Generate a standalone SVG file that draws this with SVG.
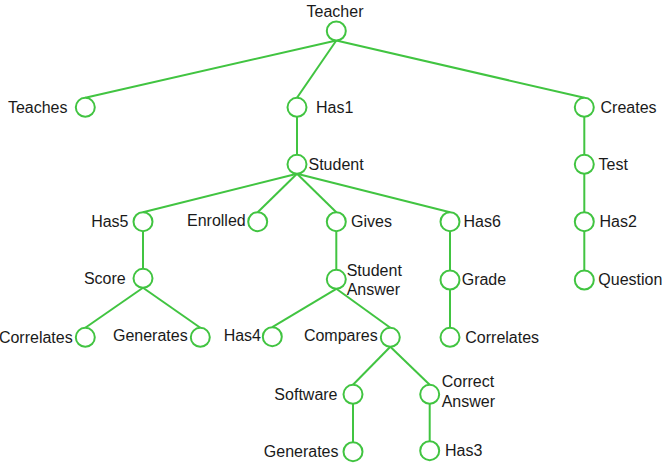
<svg xmlns="http://www.w3.org/2000/svg" width="663" height="464" viewBox="0 0 663 464">
<style>
.n circle{fill:#fff;stroke:#41c441;stroke-width:2}
.e line{stroke:#41c441;stroke-width:2}
text{font-family:"Liberation Sans",Arial,sans-serif;font-size:16px;fill:#1a1a1a}
.r{text-anchor:end}
.m{text-anchor:middle}
</style>
<rect width="663" height="464" fill="#fff"/>
<g id="connectors" class="e">
<line x1="336.3" y1="40.5" x2="85.3" y2="97.8"/>
<line x1="336.3" y1="40.5" x2="297" y2="97.8"/>
<line x1="336.3" y1="40.5" x2="584.3" y2="97.8"/>
<line x1="297" y1="116.8" x2="297" y2="154.8"/>
<line x1="584.3" y1="116.8" x2="584.3" y2="154.8"/>
<line x1="584.3" y1="173.8" x2="584.3" y2="212.2"/>
<line x1="584.3" y1="231.2" x2="584.3" y2="270.5"/>
<line x1="297" y1="173.8" x2="143" y2="212.2"/>
<line x1="297" y1="173.8" x2="257.7" y2="212.2"/>
<line x1="297" y1="173.8" x2="336.3" y2="212.2"/>
<line x1="297" y1="173.8" x2="450" y2="212.2"/>
<line x1="143" y1="231.2" x2="143" y2="268.8"/>
<line x1="143" y1="287.8" x2="85.3" y2="327.8"/>
<line x1="143" y1="287.8" x2="200.3" y2="327.8"/>
<line x1="336.3" y1="231.2" x2="336.3" y2="269.8"/>
<line x1="336.3" y1="288.8" x2="272.3" y2="327.2"/>
<line x1="336.3" y1="288.8" x2="390.3" y2="327.8"/>
<line x1="390.3" y1="346.8" x2="353" y2="384.8"/>
<line x1="390.3" y1="346.8" x2="429.7" y2="384.8"/>
<line x1="353" y1="403.8" x2="353" y2="442.2"/>
<line x1="429.7" y1="403.8" x2="429.7" y2="441.2"/>
<line x1="450" y1="231.2" x2="450" y2="270.5"/>
<line x1="450" y1="289.5" x2="450" y2="327.8"/>
</g>
<g id="teacher" class="n"><circle cx="336.3" cy="31" r="9.5"/><text class="m" x="335" y="17">Teacher</text></g>
<g id="teaches" class="n"><circle cx="85.3" cy="107.3" r="9.5"/><text class="r" x="67.5" y="112.7">Teaches</text></g>
<g id="has1" class="n"><circle cx="297" cy="107.3" r="9.5"/><text x="316" y="112.7">Has1</text></g>
<g id="creates" class="n"><circle cx="584.3" cy="107.3" r="9.5"/><text x="600.5" y="112.7">Creates</text></g>
<g id="student" class="n"><circle cx="297" cy="164.3" r="9.5"/><text x="308.5" y="169.7">Student</text></g>
<g id="test" class="n"><circle cx="584.3" cy="164.3" r="9.5"/><text x="598.5" y="169.7">Test</text></g>
<g id="has5" class="n"><circle cx="143" cy="221.7" r="9.5"/><text class="r" x="128.5" y="227.3">Has5</text></g>
<g id="enrolled" class="n"><circle cx="257.7" cy="221.7" r="9.5"/><text class="r" x="245.7" y="226.2">Enrolled</text></g>
<g id="gives" class="n"><circle cx="336.3" cy="221.7" r="9.5"/><text x="351" y="227">Gives</text></g>
<g id="has6" class="n"><circle cx="450" cy="221.7" r="9.5"/><text x="463.5" y="227">Has6</text></g>
<g id="has2" class="n"><circle cx="584.3" cy="221.7" r="9.5"/><text x="599.5" y="227">Has2</text></g>
<g id="score" class="n"><circle cx="143" cy="278.3" r="9.5"/><text class="r" x="125.7" y="283.5">Score</text></g>
<g id="student-answer" class="n"><circle cx="336.3" cy="279.3" r="9.5"/><text x="346.7" y="275.7">Student</text><text x="346.7" y="295">Answer</text></g>
<g id="grade" class="n"><circle cx="450" cy="280" r="9.5"/><text x="461.7" y="285.2">Grade</text></g>
<g id="question" class="n"><circle cx="584.3" cy="280" r="9.5"/><text x="598.3" y="285.2">Question</text></g>
<g id="correlates-1" class="n"><circle cx="85.3" cy="337.3" r="9.5"/><text class="r" x="72.7" y="343.3">Correlates</text></g>
<g id="generates-1" class="n"><circle cx="200.3" cy="337.3" r="9.5"/><text class="r" x="187.7" y="341">Generates</text></g>
<g id="has4" class="n"><circle cx="272.3" cy="336.7" r="9.5"/><text class="r" x="261" y="341">Has4</text></g>
<g id="compares" class="n"><circle cx="390.3" cy="337.3" r="9.5"/><text class="r" x="377.7" y="341">Compares</text></g>
<g id="correlates-2" class="n"><circle cx="450" cy="337.3" r="9.5"/><text x="465.3" y="343.3">Correlates</text></g>
<g id="software" class="n"><circle cx="353" cy="394.3" r="9.5"/><text class="r" x="337.5" y="400">Software</text></g>
<g id="correct-answer" class="n"><circle cx="429.7" cy="394.3" r="9.5"/><text x="441.7" y="387.3">Correct</text><text x="441.7" y="406.7">Answer</text></g>
<g id="generates-2" class="n"><circle cx="353" cy="451.7" r="9.5"/><text class="r" x="338.5" y="456.7">Generates</text></g>
<g id="has3" class="n"><circle cx="429.7" cy="450.7" r="9.5"/><text x="445" y="455.7">Has3</text></g>
</svg>
